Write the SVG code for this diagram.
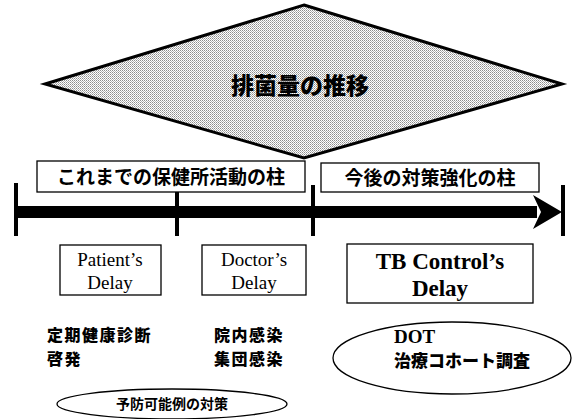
<svg xmlns="http://www.w3.org/2000/svg" width="574" height="419" viewBox="0 0 574 419">
<defs>
<pattern id="dots" width="2" height="2" patternUnits="userSpaceOnUse">
<rect width="2" height="2" fill="#ffffff"/>
<rect width="1" height="1" fill="#8c8c8c"/>
<rect x="1" y="1" width="1" height="1" fill="#b4b4b4"/>
</pattern>
</defs>
<style>
.jp{font-family:"Noto Sans CJK JP","Noto Sans",sans-serif;fill:#000}
.b{font-weight:bold}
.h{font-weight:900}
.m{font-size:16px;letter-spacing:1.5px}
.serif{font-family:"Liberation Serif","Times New Roman",serif;fill:#000}
.box{fill:#fff;stroke:#000;stroke-width:1.3}
.tick{stroke:#000;stroke-width:4}
.ell{fill:#fff;stroke:#000;stroke-width:1.3}
</style>
<rect width="574" height="419" fill="#fff"/>
<g id="diamond">
<polygon points="304,5 562,84 304,158 45,84" fill="url(#dots)" stroke="#000" stroke-width="3"/>
<text x="300" y="94" text-anchor="middle" class="jp h" font-size="23">排菌量の推移</text>
</g>
<g id="pillar-past">
<rect x="37" y="161" width="268" height="31" class="box"/>
<text x="171" y="184" text-anchor="middle" class="jp b" font-size="19">これまでの保健所活動の柱</text>
</g>
<g id="pillar-future">
<rect x="321" y="163" width="218" height="29" class="box"/>
<text x="430" y="185" text-anchor="middle" class="jp b" font-size="19">今後の対策強化の柱</text>
</g>
<g id="connectors">
<rect x="15" y="206" width="522" height="12" fill="#000"/>
<polygon points="533,195 562,212 533,229 541,212" fill="#000"/>
<line x1="16" y1="183" x2="16" y2="236" class="tick"/>
<line x1="177" y1="192" x2="177" y2="236" class="tick"/>
<line x1="313" y1="185" x2="313" y2="236" class="tick"/>
<line x1="563" y1="185" x2="563" y2="236" class="tick"/>
</g>
<g id="patients-delay">
<rect x="60" y="245" width="101" height="50" class="box"/>
<text x="110" y="266" text-anchor="middle" class="serif" font-size="19">Patient’s</text>
<text x="110" y="289" text-anchor="middle" class="serif" font-size="19">Delay</text>
</g>
<g id="doctors-delay">
<rect x="202" y="245" width="104" height="50" class="box"/>
<text x="254" y="266" text-anchor="middle" class="serif" font-size="19">Doctor’s</text>
<text x="254" y="289" text-anchor="middle" class="serif" font-size="19">Delay</text>
</g>
<g id="tb-delay">
<rect x="347" y="244" width="186" height="59" class="box"/>
<text x="440" y="269" text-anchor="middle" class="serif b" font-size="23">TB Control’s</text>
<text x="440" y="296" text-anchor="middle" class="serif b" font-size="23">Delay</text>
</g>
<g id="patient-measures">
<text x="47" y="341" class="jp h m">定期健康診断</text>
<text x="47" y="365" class="jp h m">啓発</text>
</g>
<g id="doctor-measures">
<text x="214" y="341" class="jp h m">院内感染</text>
<text x="214" y="365" class="jp h m">集団感染</text>
</g>
<g id="tb-measures">
<ellipse cx="452" cy="358" rx="119" ry="36" class="ell"/>
<text x="394" y="343" class="serif b" font-size="19">DOT</text>
<text x="394" y="367" class="jp h" font-size="17">治療コホート調査</text>
</g>
<g id="prevention">
<ellipse cx="172" cy="404" rx="115" ry="15" class="ell"/>
<text x="172" y="409" text-anchor="middle" class="jp b" font-size="14">予防可能例の対策</text>
</g>
</svg>
